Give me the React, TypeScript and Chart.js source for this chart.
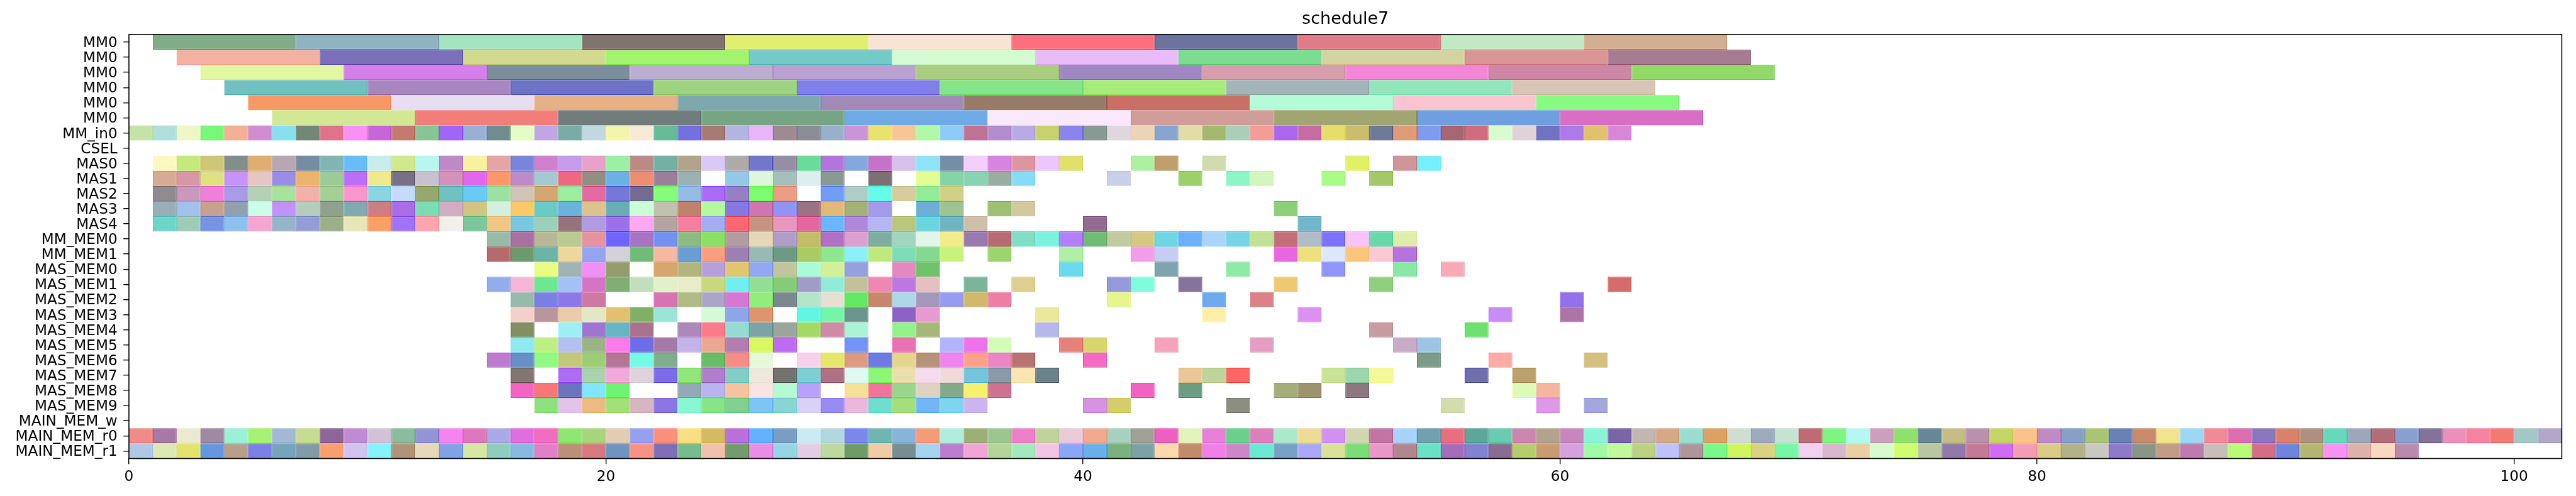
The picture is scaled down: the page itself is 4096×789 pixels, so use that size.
import React, { useEffect, useRef } from 'react';
import { Chart, registerables } from 'chart.js';

Chart.register(...registerables);

// ---------------- data ----------------
const chartTitle = 'schedule7';

const rowNames = [
  'MM0', 'MM0', 'MM0', 'MM0', 'MM0', 'MM0', 'MM_in0', 'CSEL',
  'MAS0', 'MAS1', 'MAS2', 'MAS3', 'MAS4', 'MM_MEM0', 'MM_MEM1',
  'MAS_MEM0', 'MAS_MEM1', 'MAS_MEM2', 'MAS_MEM3', 'MAS_MEM4',
  'MAS_MEM5', 'MAS_MEM6', 'MAS_MEM7', 'MAS_MEM8', 'MAS_MEM9',
  'MAIN_MEM_w', 'MAIN_MEM_r0', 'MAIN_MEM_r1',
];

const xTickValues = [0, 20, 40, 60, 80, 100];
const xMin = 0;
const xMax = 102;

const mmTaskDuration = 6;
const unitTaskDuration = 1;

// task start times, one array per row
const mm0aStarts = [1, 7, 13, 19, 25, 31, 37, 43, 49, 55, 61];
const mm0bStarts = [2, 8, 14, 20, 26, 32, 38, 44, 50, 56, 62];
const mm0cStarts = [3, 9, 15, 21, 27, 33, 39, 45, 51, 57, 63];
const mm0dStarts = [4, 10, 16, 22, 28, 34, 40, 46, 52, 58];
const mm0eStarts = [5, 11, 17, 23, 29, 35, 41, 47, 53, 59];
const mm0fStarts = [6, 12, 18, 24, 30, 36, 42, 48, 54, 60];
const mmIn0Starts = [0, 1, 2, 3, 4, 5, 6, 7, 8, 9, 10, 11, 12, 13, 14, 15, 16, 17, 18, 19, 20, 21, 22, 23, 24, 25, 26, 27, 28, 29, 30, 31, 32, 33, 34, 35, 36, 37, 38, 39, 40, 41, 42, 43, 44, 45, 46, 47, 48, 49, 50, 51, 52, 53, 54, 55, 56, 57, 58, 59, 60, 61, 62];
const cselStarts: number[] = [];
const mas0Starts = [1, 2, 3, 4, 5, 6, 7, 8, 9, 10, 11, 12, 13, 14, 15, 16, 17, 18, 19, 20, 21, 22, 23, 24, 25, 26, 27, 28, 29, 30, 31, 32, 33, 34, 35, 36, 37, 38, 39, 42, 43, 45, 51, 53, 54];
const mas1Starts = [1, 2, 3, 4, 5, 6, 7, 8, 9, 10, 11, 12, 13, 14, 15, 16, 17, 18, 19, 20, 21, 22, 23, 25, 26, 27, 28, 29, 31, 33, 34, 35, 36, 37, 41, 44, 46, 47, 50, 52];
const mas2Starts = [1, 2, 3, 4, 5, 6, 7, 8, 9, 10, 11, 12, 13, 14, 15, 16, 17, 18, 19, 20, 21, 22, 23, 24, 25, 26, 27, 29, 30, 31, 32, 33, 34];
const mas3Starts = [1, 2, 3, 4, 5, 6, 7, 8, 9, 10, 11, 12, 13, 14, 15, 16, 17, 18, 19, 20, 21, 22, 23, 24, 25, 26, 27, 28, 29, 30, 31, 33, 34, 36, 37, 48];
const mas4Starts = [1, 2, 3, 4, 5, 6, 7, 8, 9, 10, 11, 12, 13, 14, 15, 16, 17, 18, 19, 20, 21, 22, 23, 24, 25, 26, 27, 28, 29, 30, 31, 32, 33, 34, 35, 40, 49];
const mmMem0Starts = [15, 16, 17, 18, 19, 20, 21, 22, 23, 24, 25, 26, 27, 28, 29, 30, 31, 32, 33, 34, 35, 36, 37, 38, 39, 40, 41, 42, 43, 44, 45, 46, 47, 48, 49, 50, 51, 52, 53];
const mmMem1Starts = [15, 16, 17, 18, 19, 20, 21, 22, 23, 24, 25, 26, 27, 28, 29, 30, 31, 32, 33, 34, 36, 39, 42, 43, 48, 49, 50, 51, 52, 53];
const masMem0Starts = [17, 18, 19, 20, 22, 23, 24, 25, 26, 27, 28, 29, 30, 32, 33, 39, 43, 46, 50, 53, 55];
const masMem1Starts = [15, 16, 17, 18, 19, 20, 21, 22, 23, 24, 25, 26, 27, 28, 29, 30, 31, 32, 33, 35, 37, 41, 42, 44, 48, 52, 62];
const masMem2Starts = [16, 17, 18, 19, 22, 23, 24, 25, 26, 27, 28, 29, 30, 31, 32, 33, 34, 35, 36, 41, 45, 47, 60];
const masMem3Starts = [16, 17, 18, 19, 20, 21, 22, 24, 25, 26, 28, 29, 30, 32, 33, 38, 45, 49, 57, 60];
const masMem4Starts = [16, 18, 19, 20, 21, 23, 24, 25, 26, 27, 28, 29, 30, 32, 33, 38, 52, 56];
const masMem5Starts = [16, 17, 18, 19, 20, 21, 22, 23, 24, 25, 26, 27, 30, 32, 34, 35, 36, 39, 40, 43, 47, 53, 54];
const masMem6Starts = [15, 16, 17, 18, 19, 20, 21, 22, 24, 25, 26, 28, 29, 30, 31, 32, 33, 34, 35, 36, 37, 40, 54, 57, 61];
const masMem7Starts = [16, 18, 19, 20, 21, 22, 23, 24, 25, 26, 27, 28, 29, 30, 31, 32, 33, 34, 35, 36, 37, 38, 44, 45, 46, 50, 51, 52, 56, 58];
const masMem8Starts = [16, 17, 18, 19, 20, 23, 24, 25, 26, 27, 28, 30, 31, 32, 33, 34, 35, 36, 42, 44, 48, 49, 51, 58, 59];
const masMem9Starts = [17, 18, 19, 20, 21, 22, 23, 24, 25, 26, 27, 28, 29, 30, 31, 32, 33, 34, 35, 40, 41, 46, 55, 59, 61];
const mainMemWStarts: number[] = [];
const mainMemR0Starts = [0, 1, 2, 3, 4, 5, 6, 7, 8, 9, 10, 11, 12, 13, 14, 15, 16, 17, 18, 19, 20, 21, 22, 23, 24, 25, 26, 27, 28, 29, 30, 31, 32, 33, 34, 35, 36, 37, 38, 39, 40, 41, 42, 43, 44, 45, 46, 47, 48, 49, 50, 51, 52, 53, 54, 55, 56, 57, 58, 59, 60, 61, 62, 63, 64, 65, 66, 67, 68, 69, 70, 71, 72, 73, 74, 75, 76, 77, 78, 79, 80, 81, 82, 83, 84, 85, 86, 87, 88, 89, 90, 91, 92, 93, 94, 95, 96, 97, 98, 99, 100, 101];
const mainMemR1Starts = [0, 1, 2, 3, 4, 5, 6, 7, 8, 9, 10, 11, 12, 13, 14, 15, 16, 17, 18, 19, 20, 21, 22, 23, 24, 25, 26, 27, 28, 29, 30, 31, 32, 33, 34, 35, 36, 37, 38, 39, 40, 41, 42, 43, 44, 45, 46, 47, 48, 49, 50, 51, 52, 53, 54, 55, 56, 57, 58, 59, 60, 61, 62, 63, 64, 65, 66, 67, 68, 69, 70, 71, 72, 73, 74, 75, 76, 77, 78, 79, 80, 81, 82, 83, 84, 85, 86, 87, 88, 89, 90, 91, 92, 93, 94, 95];

// ---------------- styles (task colours, one per task) ----------------
const mm0aColors = ['#80ad87', '#8fb3c0', '#a3e4c1', '#807370', '#e0ef6e', '#f7e4d4', '#fe6e7d', '#6c739c', '#e07b87', '#c2e9c4', '#d2ae92'];
const mm0bColors = ['#f4b0a3', '#7c6fb9', '#d4d990', '#a2f46f', '#73cac9', '#d4fbd2', '#e9bcf9', '#7cdd91', '#d3d4a2', '#dc9595', '#a77b91'];
const mm0cColors = ['#e3f6a1', '#d580e8', '#7b8e9a', '#bcaece', '#b9a2cf', '#abcd82', '#a089c3', '#d79eae', '#f387d6', '#ce86a7', '#93d96a'];
const mm0dColors = ['#72c0c2', '#a886bf', '#6b74c6', '#9dd27e', '#8180ea', '#87e487', '#a6ec78', '#a3b5b8', '#92e6bc', '#d9c4b6'];
const mm0eColors = ['#f79866', '#e8deef', '#e5b187', '#7ea8b0', '#a28ab8', '#967b6b', '#c86f66', '#b5fbd7', '#fbc4d3', '#87fa80'];
const mm0fColors = ['#d3e894', '#f37d78', '#717d7c', '#76a583', '#6eabe6', '#fae8fc', '#d19d99', '#a1a56f', '#6f9fe0', '#d86fc4'];
const mmIn0Colors = ['#c5e3a6', '#b0e0dc', '#f0f7c7', '#78f878', '#f3b095', '#d08ed1', '#88e0ee', '#738677', '#de7389', '#fa90f5', '#c866d8', '#c67a6d', '#89c497', '#a066f8', '#9aafd4', '#708c8e', '#e5fcc4', '#c0a6e3', '#7aaca6', '#c0d8df', '#f4f5a8', '#f8ebd6', '#66bc99', '#7470e0', '#a77b72', '#b3b4e2', '#e8b5f9', '#9e8a91', '#8a8d94', '#98b0cb', '#c995d6', '#e6e46a', '#f8c595', '#b1f9a6', '#8ccbfa', '#bf7293', '#b58bcf', '#b7aae5', '#c6d26f', '#8c84ee', '#879a93', '#dfd6de', '#eed4b6', '#86a5d2', '#e1dda5', '#a3ba6c', '#a9d0b7', '#f59c96', '#ad67ee', '#c66ba4', '#e6dd6c', '#cbbd6b', '#6f7a98', '#e09b79', '#7e9bef', '#a56872', '#d06c7d', '#d8fcd0', '#e0d2d8', '#6f73c1', '#ae7aea', '#e2c16c', '#da86d8'];
const cselColors: string[] = [];
const mas0Colors = ['#fef8c0', '#c5ea7b', '#cfc775', '#818f8c', '#e0af6f', '#b8a6b1', '#768ba4', '#80b5b4', '#67bdf7', '#c7eeec', '#d3e78c', '#b6f8ef', '#bd89c7', '#f8f29f', '#e5a5a5', '#7885dd', '#cf80cf', '#c49cec', '#e8a0c8', '#99f1a3', '#bc8a84', '#76b0a5', '#b2a38b', '#d9c8f8', '#aeaaaa', '#7376cd', '#968ea5', '#68dd99', '#b175dc', '#84a7dc', '#c572c9', '#d6c2e8', '#90e2f6', '#748ea8', '#f2cefc', '#d584e0', '#de95a0', '#edc6fb', '#e0e06a', '#adf0a0', '#c09f6d', '#d1dbad', '#e0f264', '#d09599', '#75f0fb'];
const mas1Colors = ['#d6ab94', '#d698a5', '#dde27e', '#c693f9', '#e6c5c5', '#9a8ce7', '#ecb56f', '#9acc94', '#bb6ff8', '#f1e98b', '#787088', '#c8c1cf', '#d491ba', '#e068ee', '#fc976c', '#be8bc9', '#a3c9d1', '#f06880', '#928f82', '#68b2e6', '#ed8f6e', '#9e7c9c', '#9cb1b1', '#93c9e5', '#ddf6dc', '#a3c0bd', '#dcefee', '#899a93', '#7d7074', '#e1fe95', '#84d4a7', '#8ad2b4', '#9aada2', '#87dbf7', '#c9cfe9', '#9bd06d', '#8ef6c6', '#d3f5be', '#a7fc87', '#a2c86a'];
const mas2Colors = ['#8f8b90', '#c899ba', '#f07fda', '#a99be8', '#b4d1b7', '#a5e49a', '#f4b0ab', '#a4cf97', '#f797cb', '#8bd4e0', '#c6dbfb', '#97a76e', '#71c0c2', '#69caf3', '#9ce0a4', '#d3c4b8', '#d4a673', '#9bee9e', '#e46aa2', '#7478d8', '#736b94', '#85fd7b', '#95bce3', '#ab6af8', '#967fc5', '#7dfd70', '#e99d83', '#709ef6', '#b0ccc7', '#66fceb', '#d8cb9c', '#91ee98', '#d4cf88'];
const mas3Colors = ['#9aaeb5', '#a3c1eb', '#c8a090', '#93a0b0', '#cbfde8', '#c292fc', '#b6ccbc', '#90a190', '#80aab0', '#cf7d85', '#a96ee3', '#79deb3', '#cfadc3', '#cec681', '#d2efe0', '#fdc966', '#69cbc5', '#6ab3df', '#dac38e', '#6badb4', '#caffd6', '#c0c1b0', '#bb836c', '#b5f99e', '#8479e0', '#cf75b1', '#9292f7', '#9a7485', '#e1bb75', '#a3b076', '#a39ae9', '#6cafd2', '#9dc491', '#9ec076', '#d3c89e', '#8bd078'];
const mas4Colors = ['#6ed5c9', '#9ccbb8', '#7693e6', '#8ec0f0', '#f5a5d0', '#97b4c9', '#939ed6', '#9caf8b', '#e7e6b9', '#fda068', '#a072f6', '#fda4ad', '#f1f1ea', '#7ac899', '#efc783', '#79c8e2', '#9cd1b9', '#96727f', '#b09be0', '#9a71e8', '#fba9f2', '#b3a49f', '#f47f9f', '#a1acf4', '#fb6674', '#c69383', '#e996bf', '#e5679f', '#69b8fd', '#b088da', '#b6b6f6', '#b9c67c', '#6bd6e0', '#70b4c4', '#cdbfa9', '#936b92', '#72b6cb'];
const mmMem0Colors = ['#96bca9', '#ab6fa2', '#b8b897', '#b7cb92', '#e792a1', '#6e66fc', '#a774c4', '#7192f1', '#8cbd7e', '#8ae064', '#b39ba0', '#e5d8b8', '#b19dc8', '#c2bd66', '#b36ec6', '#dc9fd0', '#7faea1', '#a1d5bf', '#e3f4e8', '#f3ec8b', '#9a79b0', '#b86b72', '#7fdec5', '#7af2de', '#b37ffb', '#72bb77', '#c1caa0', '#d6c882', '#6fd7e4', '#6caffb', '#aad5f8', '#76d4e6', '#c1e294', '#c46f78', '#b0bcc8', '#7c73f8', '#f8c4f8', '#6ad9aa', '#e1eeab'];
const mmMem1Colors = ['#b76a6b', '#6c9a6c', '#6ab5a6', '#f0d69a', '#92a5ee', '#d4d1d8', '#70bb78', '#f7b8a0', '#699ed3', '#fc9e7e', '#9c80b3', '#98bab3', '#6e9a85', '#aacb62', '#8be88f', '#8bf0f7', '#c1e87b', '#7edcb6', '#84d891', '#c9f27a', '#9dd46d', '#b0f0a4', '#f19de9', '#c5cdf2', '#e866df', '#eee07a', '#dce8fd', '#fbc67c', '#fbc9d5', '#b672e1'];
const masMem0Colors = ['#ebfc82', '#9fb4b3', '#f08ff5', '#949d6b', '#d5a66d', '#b3b47e', '#b69fdb', '#e2c66f', '#93a7f3', '#c0c59d', '#a9fcd5', '#d3f099', '#96a0de', '#e389bf', '#6fc265', '#6dd9f0', '#7ea5ab', '#8feaa6', '#9195fa', '#8ae8a7', '#f8aab9'];
const masMem1Colors = ['#92ade9', '#f6b6d6', '#6ee890', '#a3c1f6', '#d475c4', '#80b071', '#c1dfbd', '#e2f1ca', '#e8edc8', '#c9d87c', '#71eef0', '#92de95', '#86cc78', '#a19bc8', '#90ecd7', '#c2c19c', '#ec88b2', '#bc78e0', '#e4c0c0', '#7ab49a', '#dccf8f', '#9598d9', '#80fbdb', '#877399', '#efc874', '#8fcf7d', '#d46c6c'];
const masMem2Colors = ['#96bbaa', '#7a7fe3', '#8d79e5', '#ce79a2', '#d872b3', '#b1bb84', '#aca5cb', '#d677d4', '#92ee7a', '#7a888f', '#b2e5ca', '#e8ded4', '#62e964', '#c8866c', '#acd8e8', '#a398ba', '#979cf0', '#d1b96c', '#ef7ea4', '#e6f68a', '#6faaef', '#dc8185', '#9370ec'];
const masMem3Colors = ['#f5cfc9', '#b99699', '#eaccaa', '#e3e8c4', '#e3c06f', '#80b063', '#9ae6d6', '#d4fad8', '#8fa5ea', '#e0946d', '#62f6e2', '#74f6a6', '#6d9590', '#8e62c4', '#e89ad0', '#ebe89c', '#fdefa6', '#dd90f1', '#c78df3', '#ac75a5'];
const masMem4Colors = ['#818f62', '#9cf0f3', '#9e75cf', '#66b5c4', '#ab728d', '#ad89b9', '#fb7a8c', '#95dbd2', '#7ea3a4', '#9aa59b', '#a6d964', '#cf8aa5', '#aaf3d8', '#94f28c', '#a6b878', '#b5b8e8', '#c69ca0', '#6fe06f'];
const masMem5Colors = ['#8ee9f0', '#bdef82', '#b4c0ef', '#9cb385', '#fd7aeb', '#6d6ee8', '#a67aa6', '#c2b4ea', '#eba890', '#b07fb0', '#d8f862', '#be6bf3', '#7693f6', '#e971b4', '#b4b4fc', '#ee72e9', '#d3fcb7', '#e5837a', '#d9d56e', '#f6a2bc', '#e59ec1', '#c8abc7', '#9dc4e5'];
const masMem6Colors = ['#bc7bce', '#6690c6', '#92fa84', '#c4c77c', '#9ecd78', '#b57596', '#76f9e6', '#80ad8a', '#6abc68', '#f88c86', '#e5f9da', '#f6d1ec', '#e6e56c', '#dc9a82', '#6d7ae2', '#e6d58c', '#b59378', '#ef84ef', '#fea18c', '#e987c2', '#b87272', '#f46bc3', '#7d9b89', '#fdaba5', '#d6c07f'];
const masMem7Colors = ['#827673', '#ad6af3', '#a9d3aa', '#f2a8de', '#ded3db', '#7c6cea', '#8fe67a', '#b07ecd', '#82cdc9', '#f0e7dc', '#747270', '#7dcfd2', '#b06f82', '#dff9f4', '#8df675', '#ecdfae', '#f6daf0', '#eedbda', '#72c6d8', '#8a9aa8', '#fae7b0', '#6b828a', '#ebc796', '#bed498', '#fc6765', '#c9e497', '#9bd6ad', '#f5f99a', '#6f6fb0', '#bca16c'];
const masMem8Colors = ['#f266c0', '#fb7676', '#6d74be', '#81e6fe', '#6ef373', '#95a8b5', '#b9b3ef', '#f5c39e', '#fbe3e3', '#b6fad5', '#b8a1fa', '#f5e097', '#f0749c', '#9bd48f', '#dfd2c1', '#82aa88', '#f5f16e', '#cf7292', '#ef63c3', '#6f9b83', '#a6ad7c', '#9d936e', '#8e7781', '#dcfbb8', '#f5b59e'];
const masMem9Colors = ['#8fe17f', '#e3c3ea', '#ebbb7f', '#a2e174', '#d8b6c1', '#8b76e4', '#8bf7d2', '#88e489', '#7fd091', '#7ec4f6', '#89d5d4', '#dad2f6', '#988cf4', '#eab8dc', '#6fdecf', '#a6de7c', '#74b5f8', '#7dd5ee', '#cbb5ec', '#d495e0', '#d3cd6c', '#8b8e80', '#d1ddad', '#dc99e5', '#a2a7dc'];
const mainMemWColors: string[] = [];
const mainMemR0Colors = ['#f08c88', '#a878a8', '#ebe9cf', '#9f8aa2', '#9af1d5', '#a6f274', '#a3b8d4', '#c5dc91', '#8f6699', '#c08ad5', '#d2c2d8', '#8bbc9e', '#9394d4', '#f584ef', '#dd78bd', '#a8a9e6', '#e06ee0', '#f06dbf', '#8de772', '#a8d57a', '#e3ccb4', '#94a1ee', '#fb8f7d', '#f9e087', '#d5ba66', '#ba6fdb', '#63b2fd', '#7a9ec1', '#cbebf2', '#b2d7de', '#7a88ea', '#6fb6b3', '#86b4dd', '#f39c76', '#b1eddd', '#9daf76', '#9dc68f', '#ee7fcb', '#c1d39c', '#eacad6', '#f1a98f', '#a7d0bf', '#a0a096', '#ed60bf', '#e1f4bc', '#e87fd8', '#6bd08a', '#dc80bd', '#aae9c9', '#eedb96', '#d390f2', '#d1d6b0', '#c473a5', '#a7d3f9', '#71a0ae', '#e8707e', '#5ea69b', '#6acbb1', '#cc85ae', '#b2a48c', '#c985be', '#8af5d5', '#7b64a6', '#c2b6b0', '#d7a887', '#9cdcd0', '#dba263', '#d0ddd2', '#9daabc', '#c5e3d0', '#c06a74', '#7ef483', '#b5f8f3', '#cd9fbd', '#8ee26c', '#668797', '#c5bd86', '#b892ac', '#c4d568', '#fbc28c', '#c08ac4', '#86a1c4', '#a9c473', '#6783b6', '#c88c6c', '#f1e38f', '#9cd8f4', '#f08a96', '#de6db0', '#8877be', '#d8826a', '#b08f83', '#66d8bc', '#9ea6b9', '#b16e7a', '#88a0d0', '#84729a', '#ec90b9', '#f4839f', '#f27a70', '#a3c6c6', '#b0a7ca'];
const mainMemR1Colors = ['#b0c8e6', '#dde9b4', '#e3e36c', '#6597e0', '#b89f89', '#7e7fe6', '#74a5bc', '#819ba8', '#f6a06e', '#d3c2ef', '#84f4fa', '#b09477', '#e6d8b9', '#82a2e6', '#d6e6a3', '#8fcdbd', '#86bade', '#df81c9', '#ba9078', '#d67a80', '#7094c0', '#f69385', '#7e6eb6', '#76bc8c', '#f0c0ae', '#749b6d', '#e88ee4', '#96d5e2', '#e3cde3', '#bcd99f', '#6f9c66', '#f0cba6', '#768e91', '#a5d4f1', '#bc7dcf', '#f0a5d6', '#b3d59a', '#a2e9bd', '#f3c3e3', '#8aa6f6', '#69afe8', '#7ab17e', '#7ba3a5', '#fed8ad', '#c38b6a', '#ee80e7', '#ce86c6', '#6ae9d3', '#78a1c6', '#aaa8f4', '#d8e29a', '#7cdc79', '#eb96cb', '#b2868f', '#6ae0c4', '#a46db9', '#8083d0', '#8a6b91', '#b4cc6c', '#c89b71', '#d5a0dd', '#a0f9a6', '#c1f89c', '#bdd185', '#bdc2f8', '#b0949c', '#7af98a', '#cff660', '#d8d282', '#78f6a8', '#f2d0ef', '#d8b6cc', '#e9cfa2', '#d7fbce', '#d0fc70', '#bac6a2', '#907aaa', '#c67994', '#cf6cf2', '#f39db5', '#d9cc87', '#b2b188', '#c8c7c0', '#8e7ac8', '#8a9585', '#c29c84', '#bd7bb0', '#c9bcb9', '#bbfa78', '#d46d86', '#6e84dd', '#b5b573', '#f692f1', '#dbb3a9', '#f8d8c0', '#b88aab'];

// ---------------- table built from the arrays ----------------
const rowStarts = [
  mm0aStarts, mm0bStarts, mm0cStarts, mm0dStarts, mm0eStarts, mm0fStarts, mmIn0Starts, cselStarts,
  mas0Starts, mas1Starts, mas2Starts, mas3Starts, mas4Starts, mmMem0Starts, mmMem1Starts,
  masMem0Starts, masMem1Starts, masMem2Starts, masMem3Starts, masMem4Starts,
  masMem5Starts, masMem6Starts, masMem7Starts, masMem8Starts, masMem9Starts,
  mainMemWStarts, mainMemR0Starts, mainMemR1Starts,
];
const rowColors = [
  mm0aColors, mm0bColors, mm0cColors, mm0dColors, mm0eColors, mm0fColors, mmIn0Colors, cselColors,
  mas0Colors, mas1Colors, mas2Colors, mas3Colors, mas4Colors, mmMem0Colors, mmMem1Colors,
  masMem0Colors, masMem1Colors, masMem2Colors, masMem3Colors, masMem4Colors,
  masMem5Colors, masMem6Colors, masMem7Colors, masMem8Colors, masMem9Colors,
  mainMemWColors, mainMemR0Colors, mainMemR1Colors,
];
const rowDuration = (name: string) => (name === 'MM0' ? mmTaskDuration : unitTaskDuration);
const rowKeys = rowNames.map((n, i) => `${i}:${n}`);

// edge = same colour composited twice (alpha ~0.65 face drawn over itself)
function edgeOf(hex: string): string {
  const n = parseInt(hex.slice(1), 16);
  const ch = [(n >> 16) & 255, (n >> 8) & 255, n & 255].map((v) =>
    Math.max(0, Math.min(255, Math.round(v * 1.35 - 89.25)))
  );
  return `rgb(${ch[0]},${ch[1]},${ch[2]})`;
}

const FONT = '"DejaVu Sans", "Liberation Sans", sans-serif';
const W = 4096;
const H = 789;

const framePlugin = {
  id: 'frame',
  afterDatasetsDraw(chart: any) {
    const { ctx, chartArea } = chart;
    ctx.save();
    ctx.strokeStyle = '#000';
    ctx.lineWidth = 1.6;
    ctx.strokeRect(chartArea.left, chartArea.top, chartArea.right - chartArea.left, chartArea.bottom - chartArea.top);
    ctx.restore();
  },
};

export default function App() {
  const ref = useRef<HTMLCanvasElement | null>(null);

  useEffect(() => {
    if (!ref.current) return;
    const datasets = rowNames.map((name, r) => ({
      label: name,
      data: rowStarts[r].map((s) => ({ x: [s, s + rowDuration(name)], y: rowKeys[r] })),
      backgroundColor: rowColors[r],
      borderColor: rowColors[r].map(edgeOf),
      borderWidth: 1.2,
      borderSkipped: false,
      inflateAmount: 0,
      grouped: false,
      categoryPercentage: 1,
      barPercentage: 1,
    }));

    const chart = new Chart(ref.current, {
      type: 'bar',
      data: { labels: rowKeys, datasets: datasets as any },
      options: {
        indexAxis: 'y',
        responsive: false,
        animation: false,
        devicePixelRatio: 1,
        events: [],
        layout: { padding: { left: 0, right: 22.6, top: 0, bottom: 0 } },
        plugins: {
          legend: { display: false },
          tooltip: { enabled: false },
          title: {
            display: true,
            text: chartTitle,
            color: '#000',
            fullSize: false,
            font: { family: FONT, size: 27, weight: 'normal', lineHeight: 1.2 },
            padding: { top: 15.2, bottom: 7.3 },
          },
        },
        scales: {
          x: {
            type: 'linear',
            position: 'bottom',
            min: xMin,
            max: xMax,
            afterBuildTicks: (scale: any) => {
              scale.ticks = xTickValues.map((v) => ({ value: v }));
            },
            afterFit: (scale: any) => {
              scale.height = 59.6;
            },
            border: { display: false },
            grid: { drawOnChartArea: false, drawTicks: true, tickLength: 8.8, color: '#000', lineWidth: 1.4 },
            ticks: {
              color: '#000',
              padding: 6.9,
              maxRotation: 0,
              autoSkip: false,
              font: { family: FONT, size: 23.2 },
              callback: (v: any) => String(v),
            },
          },
          y: {
            type: 'category',
            offset: true,
            afterFit: (scale: any) => {
              scale.width = 205;
            },
            border: { display: false },
            grid: { offset: false, drawOnChartArea: false, drawTicks: true, tickLength: 8.8, color: '#000', lineWidth: 1.4 },
            ticks: {
              color: '#000',
              padding: 9.5,
              autoSkip: false,
              labelOffset: 2,
              font: { family: FONT, size: 23.2 },
              callback: (_v: any, i: number) => rowNames[i],
            },
          },
        },
      } as any,
      plugins: [framePlugin],
    });
    return () => chart.destroy();
  }, []);

  return (
    <div style={{ position: 'absolute', left: 0, top: 0, width: W, height: H, background: '#fff' }}>
      <canvas ref={ref} width={W} height={H} style={{ display: 'block', width: W, height: H }} />
    </div>
  );
}
